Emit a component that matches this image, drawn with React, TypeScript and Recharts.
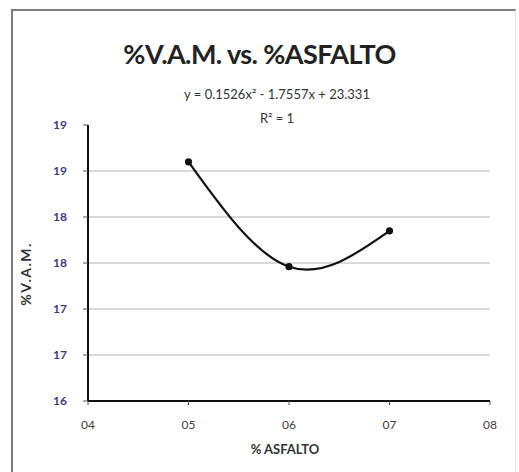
import React from 'react';
import {
    LineChart,
    Line,
    XAxis,
    YAxis,
    CartesianGrid,
} from 'recharts';

// % asfalto vs % V.A.M.
const asfalto = [5, 6, 7];
const vam = [18.6, 17.46, 17.85];

const xTicks = [4, 5, 6, 7, 8];
const xTickLabels = ['04', '05', '06', '07', '08'];
const yTicks = [16, 16.5, 17, 17.5, 18, 18.5, 19];
const yTickLabels = ['16', '17', '17', '18', '18', '19', '19'];
const gridValues = [16.5, 17, 17.5, 18, 18.5];

const data = asfalto.map((x, i) => ({ x, vam: vam[i] }));

const FONT = 'Lato, "Liberation Sans", sans-serif';

export default function App() {
    return (
        <div style={{ position: 'absolute', left: 0, top: 0, width: 519, height: 472, background: '#fff', fontFamily: FONT }}>
            {/* chart frame */}
            <div
                style={{
                    position: 'absolute',
                    left: 11,
                    top: 9,
                    width: 502,
                    height: 470,
                    borderTop: '2px solid #7d7d7d',
                    borderLeft: '2px solid #7d7d7d',
                    borderRight: '1px solid #e2e2e2',
                }}
            />
            <LineChart
                width={519}
                height={472}
                data={data}
                margin={{ top: 125, right: 29, left: 48, bottom: 41 }}
                style={{ position: 'absolute', left: 0, top: 0 }}
            >
                <CartesianGrid vertical={false} horizontalValues={gridValues} stroke="#b4b4b4" strokeWidth={1} />
                <XAxis
                    dataKey="x"
                    type="number"
                    domain={[4, 8]}
                    ticks={xTicks}
                    tickFormatter={(v: number, i: number) => xTickLabels[i]}
                    axisLine={{ stroke: '#111', strokeWidth: 2 }}
                    tickLine={{ stroke: '#555' }}
                    tickSize={4}
                    tickMargin={15}
                    height={30}
                    tick={{ fill: '#404040', fontSize: 12, fontFamily: FONT }}
                />
                <YAxis
                    type="number"
                    domain={[16, 19]}
                    ticks={yTicks}
                    tickFormatter={(v: number, i: number) => yTickLabels[i]}
                    axisLine={{ stroke: '#111', strokeWidth: 2 }}
                    tickLine={{ stroke: '#555' }}
                    tickSize={5}
                    tickMargin={16}
                    width={40}
                    tick={{ fill: '#3a3a86', fontSize: 12, fontFamily: FONT, fontWeight: 700 }}
                />
                <Line
                    type="natural"
                    dataKey="vam"
                    stroke="#111"
                    strokeWidth={2.2}
                    dot={{ r: 2.5, fill: '#111', stroke: '#111' }}
                    isAnimationActive={false}
                />
            </LineChart>
            {/* title and trendline text */}
            <div style={{ position: 'absolute', left: 0, width: 519, top: 37, textAlign: 'center', fontSize: 27, fontWeight: 700, color: '#222', letterSpacing: -0.6 }}>
                %V.A.M. vs. %ASFALTO
            </div>
            <div style={{ position: 'absolute', left: 157, width: 240, top: 86, textAlign: 'center', fontSize: 13, color: '#333' }}>
                y = 0.1526x² - 1.7557x + 23.331
            </div>
            <div style={{ position: 'absolute', left: 157, width: 240, top: 110, textAlign: 'center', fontSize: 13, color: '#333' }}>
                R² = 1
            </div>
            {/* axis titles */}
            <div
                style={{
                    position: 'absolute',
                    left: 25,
                    top: 274,
                    transform: 'translate(-50%, -50%) rotate(-90deg)',
                    fontSize: 14,
                    fontWeight: 700,
                    color: '#333',
                    letterSpacing: 1.5,
                    whiteSpace: 'nowrap',
                }}
            >
                %V.A.M.
            </div>
            <div style={{ position: 'absolute', left: 185, width: 200, top: 441, textAlign: 'center', fontSize: 13, fontWeight: 700, color: '#333' }}>
                % ASFALTO
            </div>
        </div>
    );
}
